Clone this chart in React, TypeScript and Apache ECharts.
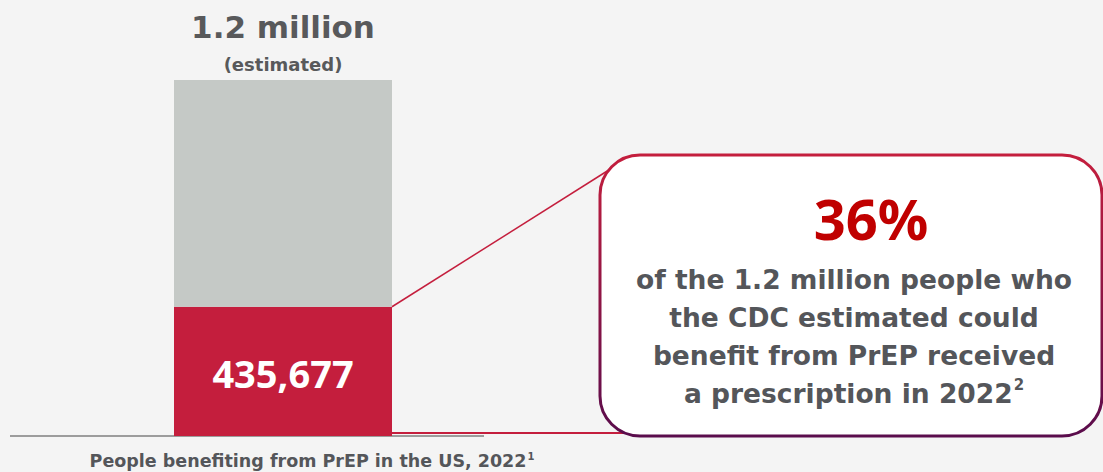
import React, { useEffect, useRef } from "react";
import * as echarts from "echarts";

const categories = ["People benefiting from PrEP in the US, 2022"];
const totalEstimated = [1200000];
const receivedPrescription = [435677];
const remaining = totalEstimated.map((t, i) => t - receivedPrescription[i]);
const totalLabel = "1.2 million";
const totalSubLabel = "(estimated)";
const shareLabel = "36%";
const shareLines = [
  "of the 1.2 million people who",
  "the CDC estimated could",
  "benefit from PrEP received",
  "a prescription in 2022",
];

const FONT = "'DejaVu Sans', sans-serif";
const NUM_FONT = "'Noto Sans', sans-serif";
const RED = "#c41e3d";
const GREY = "#c5c9c6";
const TEXT = "#54565a";
const BAR_W = 218;

export default function App() {
  const ref = useRef<HTMLDivElement>(null);
  useEffect(() => {
    document.body.style.margin = "0";
    const chart = echarts.init(ref.current!, undefined, { renderer: "svg" });
    chart.setOption({
      animation: false,
      backgroundColor: "#f4f4f4",
      grid: { left: 174, right: 1103 - 392, top: 80, bottom: 36 },
      xAxis: {
        type: "category",
        data: categories,
        axisLine: { show: false },
        axisTick: { show: false },
        axisLabel: { show: false },
      },
      yAxis: {
        type: "value",
        min: 0,
        max: totalEstimated[0],
        show: false,
        splitLine: { show: false },
      },
      series: [
        {
          type: "bar",
          stack: "a",
          data: receivedPrescription,
          barWidth: BAR_W,
          itemStyle: { color: RED },
          label: {
            show: true,
            position: "inside",
            formatter: (p: any) => p.value.toLocaleString("en-US"),
            color: "#ffffff",
            fontFamily: NUM_FONT,
            fontWeight: "bold",
            fontSize: 38,
            offset: [0, 2],
          },
          z: 3,
        },
        {
          type: "bar",
          stack: "a",
          data: remaining,
          barWidth: BAR_W,
          itemStyle: { color: GREY },
          label: {
            show: true,
            position: "top",
            distance: 4,
            formatter: `{a|${totalLabel}}\n{b|${totalSubLabel}}`,
            rich: {
              a: { fontFamily: FONT, fontWeight: "bold", fontSize: 31, color: "#58595b", lineHeight: 50 },
              b: { fontFamily: FONT, fontWeight: "bold", fontSize: 18, color: "#58595b", lineHeight: 24 },
            },
          },
          z: 3,
        },
      ],
    });

    const top = chart.convertToPixel({ seriesIndex: 0 }, [0, receivedPrescription[0]]) as number[];
    const base = chart.convertToPixel({ seriesIndex: 0 }, [0, 0]) as number[];
    const rightX = top[0] + BAR_W / 2;

    chart.setOption({
      graphic: [
        {
          type: "line",
          shape: { x1: 10, y1: base[1], x2: 484, y2: base[1] },
          style: { stroke: "#7f7f7f", lineWidth: 1.5 },
          z: 1,
        },
        {
          type: "line",
          shape: { x1: rightX, y1: top[1], x2: 612, y2: 168 },
          style: { stroke: RED, lineWidth: 1.5 },
          z: 4,
        },
        {
          type: "line",
          shape: { x1: rightX, y1: base[1] - 3, x2: 650, y2: base[1] - 3 },
          style: { stroke: RED, lineWidth: 2 },
          z: 4,
        },
        {
          type: "rect",
          shape: { x: 600, y: 155, width: 502, height: 281, r: 40 },
          style: {
            fill: "#ffffff",
            lineWidth: 3,
            stroke: {
              type: "linear",
              x: 0,
              y: 0,
              x2: 0,
              y2: 1,
              colorStops: [
                { offset: 0, color: "#c41e3d" },
                { offset: 1, color: "#5a0c4c" },
              ],
            },
          },
          z: 5,
        },
        {
          type: "text",
          x: 871,
          y: 218,
          style: {
            text: shareLabel,
            fontFamily: NUM_FONT,
            fontWeight: "bold",
            fontSize: 56,
            fill: "#c00000",
            align: "center",
            verticalAlign: "middle",
          },
          z: 6,
        },
        {
          type: "text",
          x: 854,
          y: 336,
          style: {
            text: shareLines
              .map((l, i) => (i === shareLines.length - 1 ? `{t|${l}}{s|2}` : `{t|${l}}`))
              .join("\n"),
            align: "center",
            verticalAlign: "middle",
            rich: {
              t: { fontFamily: FONT, fontWeight: "bold", fontSize: 26.5, fill: TEXT, lineHeight: 38 },
              s: { fontFamily: FONT, fontWeight: "bold", fontSize: 15, fill: TEXT, lineHeight: 38, padding: [0, 0, 16, 1] },
            },
          },
          z: 6,
        },
        {
          type: "text",
          x: 312,
          y: 461,
          style: {
            text: `{t|${categories[0]}}{s|1}`,
            align: "center",
            verticalAlign: "middle",
            rich: {
              t: { fontFamily: FONT, fontWeight: "bold", fontSize: 17.5, fill: TEXT, lineHeight: 24 },
              s: { fontFamily: FONT, fontWeight: "bold", fontSize: 10, fill: TEXT, lineHeight: 24, padding: [0, 0, 10, 1] },
            },
          },
          z: 6,
        },
      ],
    });

    return () => chart.dispose();
  }, []);
  return <div ref={ref} style={{ position: "absolute", left: 0, top: 0, width: 1103, height: 472 }} />;
}
